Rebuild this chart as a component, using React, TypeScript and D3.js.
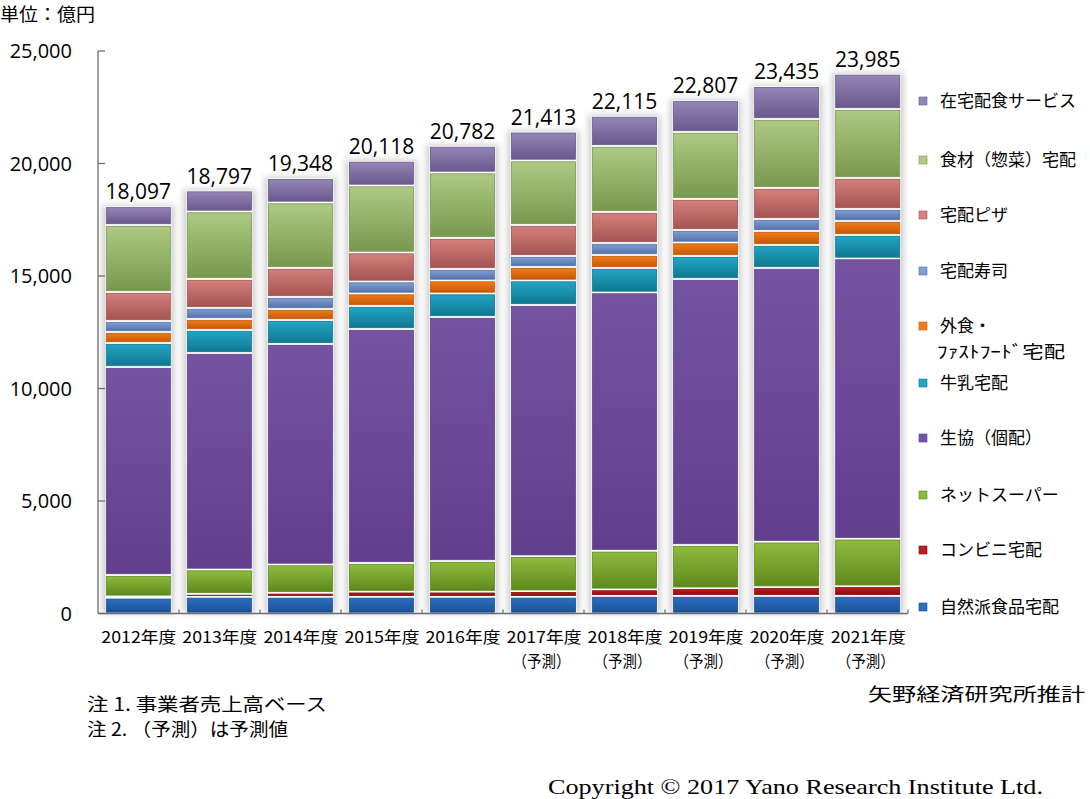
import React from "react";
import * as d3 from "d3";

const years = ["2012", "2013", "2014", "2015", "2016", "2017", "2018", "2019", "2020", "2021"];
const forecast = [false, false, false, false, false, true, true, true, true, true];
const totals = [18097, 18797, 19348, 20118, 20782, 21413, 22115, 22807, 23435, 23985];

// bottom-to-top series values (億円)
const shizenha = [700, 740, 740, 740, 740, 740, 780, 780, 780, 780];
const conbini = [60, 130, 180, 230, 230, 250, 290, 340, 390, 430];
const netSuper = [950, 1085, 1258, 1274, 1363, 1557, 1717, 1924, 2021, 2114];
const seikyo = [9245, 9623, 9800, 10400, 10845, 11164, 11480, 11823, 12165, 12454];
const gyunyu = [1066, 1022, 1066, 1023, 1044, 1089, 1089, 1022, 1022, 1044];
const gaishoku = [489, 489, 489, 555, 578, 600, 577, 600, 622, 622];
const sushi = [489, 489, 534, 534, 511, 489, 534, 555, 533, 534];
const pizza = [1289, 1289, 1289, 1288, 1378, 1378, 1377, 1378, 1378, 1378];
const shokuzai = [2978, 3000, 2911, 2978, 2911, 2866, 2934, 2978, 3067, 3066];
const zaitakuShoku = [830, 930, 1081, 1096, 1182, 1280, 1337, 1407, 1457, 1563];

const yTicks = [0, 5000, 10000, 15000, 20000, 25000];

const seriesDefs = [
  { key: "shizenha", name: "自然派食品宅配", values: shizenha, top: "#2b6dbf", bottom: "#1a5297" },
  { key: "conbini", name: "コンビニ宅配", values: conbini, top: "#bb1e1e", bottom: "#8a0c0c" },
  { key: "netSuper", name: "ネットスーパー", values: netSuper, top: "#8fba3e", bottom: "#5e8a1c" },
  { key: "seikyo", name: "生協（個配）", values: seikyo, top: "#7454a2", bottom: "#623e8e" },
  { key: "gyunyu", name: "牛乳宅配", values: gyunyu, top: "#24a4c4", bottom: "#0e7892" },
  { key: "gaishoku", name: "外食・|ﾌｧｽﾄﾌｰﾄﾞ宅配", values: gaishoku, top: "#f07c18", bottom: "#c65806" },
  { key: "sushi", name: "宅配寿司", values: sushi, top: "#809ed2", bottom: "#5273ab" },
  { key: "pizza", name: "宅配ピザ", values: pizza, top: "#d67f7d", bottom: "#a35452" },
  { key: "shokuzai", name: "食材（惣菜）宅配", values: shokuzai, top: "#adc983", bottom: "#79984f" },
  { key: "zaitaku", name: "在宅配食サービス", values: zaitakuShoku, top: "#9585b7", bottom: "#69598c" },
];

const legendY = [607, 550, 495, 438, 383, 326, 271, 215, 160, 101];

export default function App() {
  const W = 1090, H = 799;
  const x0 = 98, x1 = 908;
  const yBase = 613.5, yTop = 51;

  const x = d3.scaleBand<string>().domain(years).range([x0, x1]).paddingInner(0.185).paddingOuter(0.09);
  const y = d3.scaleLinear().domain([0, 25000]).range([yBase, yTop]);

  const table = years.map((yr, i) => {
    const row: any = { year: yr };
    seriesDefs.forEach((s) => (row[s.key] = s.values[i]));
    return row;
  });
  const stacked = d3.stack<any>().keys(seriesDefs.map((s) => s.key))(table);

  const jp = "'Noto Sans CJK JP', 'Noto Sans', sans-serif";
  const num = "'Open Sans', 'Liberation Sans', sans-serif";
  const serif = "'Liberation Serif', 'DejaVu Serif', serif";

  return (
    <svg width={W} height={H} style={{ position: "absolute", left: 0, top: 0, background: "#fff" }}>
      <defs>
        {seriesDefs.map((s) => (
          <linearGradient key={s.key} id={`g-${s.key}`} x1="0" y1="0" x2="0" y2="1">
            <stop offset="0%" stopColor={s.top} />
            <stop offset="100%" stopColor={s.bottom} />
          </linearGradient>
        ))}
        <filter id="shadow" x="-30%" y="-10%" width="160%" height="120%">
          <feGaussianBlur stdDeviation="3" />
        </filter>
      </defs>

      <text x={0} y={21} fontFamily={jp} fontSize={18} textLength={95} lengthAdjust="spacingAndGlyphs" fill="#000">単位：億円</text>

      {/* bar shadows and backgrounds */}
      {years.map((yr, i) => (
        <g key={`bg-${yr}`}>
          <rect x={(x(yr) as number) - 3} y={y(totals[i]) - 1} width={x.bandwidth() + 6} height={yBase - y(totals[i]) + 1}
            fill="#b8b8b8" opacity={0.7} filter="url(#shadow)" />
          <rect x={x(yr)} y={y(totals[i])} width={x.bandwidth()} height={yBase - y(totals[i])} fill="#fff" />
        </g>
      ))}

      {/* segments */}
      {stacked.map((layer, si) => {
        const s = seriesDefs[si];
        return (
          <g key={s.key}>
            {layer.map((d, i) => {
              const yt = y(d[1]) + 1.3;
              const yb = y(d[0]) - 1.3;
              const h = yb - yt;
              if (h <= 0.3) return null;
              return (
                <rect key={i} x={(x(years[i]) as number) + 1} y={yt} width={x.bandwidth() - 2} height={h}
                  fill={`url(#g-${s.key})`} stroke={s.bottom} strokeWidth={0.8} />
              );
            })}
          </g>
        );
      })}

      {/* axes */}
      <line x1={x0} x2={x0} y1={yTop} y2={yBase} stroke="#6e6e6e" strokeWidth={1.3} />
      {yTicks.map((t) => (
        <g key={t}>
          <line x1={x0} x2={x0 + 7} y1={y(t)} y2={y(t)} stroke="#6e6e6e" strokeWidth={1.3} />
          <text x={72} y={y(t)} dy="0.35em" textAnchor="end" fontFamily={num} fontSize={20} fill="#000">
            {d3.format(",")(t)}
          </text>
        </g>
      ))}
      <line x1={x0} x2={x1} y1={yBase} y2={yBase} stroke="#6e6e6e" strokeWidth={1.3} />
      {years.map((yr, i) => {
        const bx = x0 + (i + 1) * ((x1 - x0) / years.length);
        return <line key={`xt-${yr}`} x1={bx} x2={bx} y1={yBase} y2={yBase - 4} stroke="#6e6e6e" strokeWidth={1.2} />;
      })}

      {/* totals */}
      {years.map((yr, i) => (
        <text key={`tot-${yr}`} x={(x(yr) as number) + x.bandwidth() / 2} y={y(totals[i]) - 7}
          textAnchor="middle" fontFamily={num} fontSize={21} fill="#000">
          {d3.format(",")(totals[i])}
        </text>
      ))}

      {/* x labels */}
      {years.map((yr, i) => {
        const cx = (x(yr) as number) + x.bandwidth() / 2;
        return (
          <g key={`xl-${yr}`}>
            <text x={cx - 37} y={643} fontFamily={jp} fontSize={16} textLength={75} lengthAdjust="spacingAndGlyphs" fill="#000">
              {`${yr}年度`}
            </text>
            {forecast[i] && (
              <text x={cx - 31} y={667} fontFamily={jp} fontSize={16} textLength={58} lengthAdjust="spacingAndGlyphs" fill="#000">
                （予測）
              </text>
            )}
          </g>
        );
      })}

      {/* legend */}
      {seriesDefs.map((s, i) => {
        const parts = s.name.split("|");
        const ly = legendY[i];
        return (
          <g key={`lg-${s.key}`}>
            <rect x={919} y={ly - 4} width={8} height={8} fill={s.top} stroke={s.bottom} strokeWidth={0.6} />
            <text x={940} y={ly} dy="0.35em" fontFamily={jp} fontSize={17} fill="#000">{parts[0]}</text>
            {parts[1] && (
              <text x={937} y={ly + 26} dy="0.35em" fontFamily={jp} fontSize={17} textLength={128} lengthAdjust="spacingAndGlyphs" fill="#000">{parts[1]}</text>
            )}
          </g>
        );
      })}

      {/* notes */}
      <text x={87} y={711} fontFamily={jp} fontSize={18} textLength={240} lengthAdjust="spacingAndGlyphs" fill="#000">注 1. 事業者売上高ベース</text>
      <text x={87} y={736} fontFamily={jp} fontSize={18} textLength={201} lengthAdjust="spacingAndGlyphs" fill="#000">注 2. （予測）は予測値</text>
      <text x={868} y={701} fontFamily={jp} fontSize={18} textLength={217} lengthAdjust="spacingAndGlyphs" fill="#000">矢野経済研究所推計</text>
      <text x={548} y={794} fontFamily={serif} fontSize={22} textLength={495} lengthAdjust="spacingAndGlyphs" fill="#000">
        Copyright © 2017 Yano Research Institute Ltd.
      </text>
    </svg>
  );
}
